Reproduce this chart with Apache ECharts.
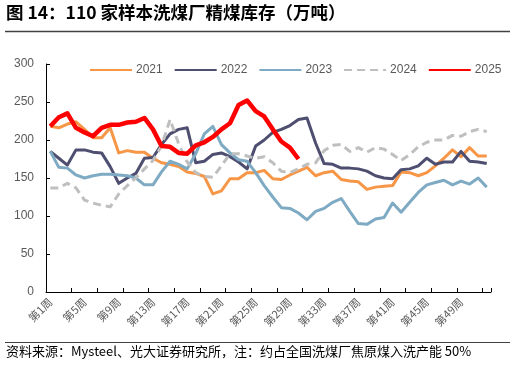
<!DOCTYPE html>
<html>
<head>
<meta charset="utf-8">
<script src="https://cdn.jsdelivr.net/npm/echarts@6/dist/echarts.min.js"></script>
<style>
html,body{margin:0;padding:0;background:#fff;}
#c{width:516px;height:365px;}
</style>
</head>
<body>
<div id="c"></div>
<script>
var weeks = [];
for (var i = 1; i <= 52; i++) weeks.push('第' + i + '周');

var s2021 = [218,216,221,224,214,203,203,216,183,186,184,184,176,170,168,165,158,156,152,129,133,149,149,157,157,160,149,148,154,159,164,153,157,159,148,146,145,135,138,139,140,158,157,153,157,166,176,187,178,190,179,179];
var s2022 = [185,176,167,187,187,184,183,165,143,150,156,176,177,194,208,214,216,170,172,181,183,178,171,162,192,200,210,214,219,227,229,196,169,168,163,163,162,159,153,150,149,161,162,166,176,168,171,171,185,172,171,169];
var s2023 = [185,164,163,154,150,153,155,155,154,153,150,141,141,158,172,168,162,182,208,218,194,183,174,172,157,140,125,111,110,104,95,106,110,118,123,106,90,89,96,98,117,105,118,131,141,144,147,141,146,142,150,138];
var s2024 = [137,137,143,137,121,117,114,112,129,140,150,162,173,192,227,195,171,157,152,151,166,182,182,179,176,178,170,159,157,162,168,170,186,193,194,185,190,184,190,188,181,173,181,191,197,200,200,206,205,211,214,211];
var s2025 = [218,230,235,216,210,205,216,220,220,223,224,229,214,192,191,183,182,193,197,204,214,222,246,252,238,231,214,198,190,175];

var seriesNames = ['2021','2022','2023','2024','2025'];
var yTicks = [0, 50, 100, 150, 200, 250, 300];

var chart = echarts.init(document.getElementById('c'));
var cjk = '"Noto Sans CJK SC", "Noto Sans", sans-serif';
var lat = '"Liberation Sans", Arial, sans-serif';

function mk(name, data, color, width, type) {
  return {
    name: name, type: 'line', data: data, symbol: 'none', showSymbol: false, smooth: false,
    lineStyle: {color: color, width: width, type: type || 'solid', cap: 'butt', join: 'round'},
    itemStyle: {color: color}
  };
}

chart.setOption({
  animation: false,
  backgroundColor: '#ffffff',
  grid: {left: 46, right: 25, top: 64, bottom: 73, containLabel: false},
  legend: {
    left: 84, top: 59, itemWidth: 42, itemHeight: 10, itemGap: 11,
    itemStyle: {opacity: 0},
    textStyle: {fontFamily: lat, fontSize: 12, color: '#595959', padding: [0,0,0,-1]},
    data: seriesNames
  },
  xAxis: {
    type: 'category', data: weeks, boundaryGap: true,
    axisLine: {lineStyle: {color: '#000', width: 1}},
    axisTick: {show: true, inside: true, length: 4, interval: 2, lineStyle: {color: '#000'}},
    axisLabel: {interval: 3, rotate: 45, fontFamily: cjk, fontSize: 11, color: '#595959', margin: 8}
  },
  yAxis: {
    type: 'value', min: yTicks[0], max: yTicks[yTicks.length-1], interval: 50,
    splitLine: {show: false},
    axisLine: {show: true, lineStyle: {color: '#000', width: 1}},
    axisTick: {show: true, inside: true, length: 4, lineStyle: {color: '#000'}},
    axisLabel: {fontFamily: lat, fontSize: 12, color: '#595959', margin: 12}
  },
  series: [
    mk('2021', s2021, '#f79646', 3),
    mk('2022', s2022, '#4e4e70', 3),
    mk('2023', s2023, '#7eaac3', 3),
    mk('2024', s2024, '#bfbfbf', 3, [8, 5]),
    mk('2025', s2025, '#ff0000', 4.5)
  ],
  graphic: [
    {type: 'text', left: 6, top: 4, style: {text: '图 14：110 家样本洗煤厂精煤库存（万吨）', fontFamily: cjk, fontSize: 17.5, fontWeight: 'bold', fill: '#000'}},
    {type: 'line', shape: {x1: 5, y1: 31.5, x2: 510, y2: 31.5}, style: {stroke: '#404040', lineWidth: 1.5}},
    {type: 'line', shape: {x1: 5, y1: 342.5, x2: 510, y2: 342.5}, style: {stroke: '#404040', lineWidth: 1}},
    {type: 'text', left: 6, top: 345, style: {text: '资料来源：Mysteel、光大证券研究所，注：约占全国洗煤厂焦原煤入洗产能 50%', fontFamily: cjk, fontSize: 13, fill: '#000'}}
  ]
});
</script>
</body>
</html>
